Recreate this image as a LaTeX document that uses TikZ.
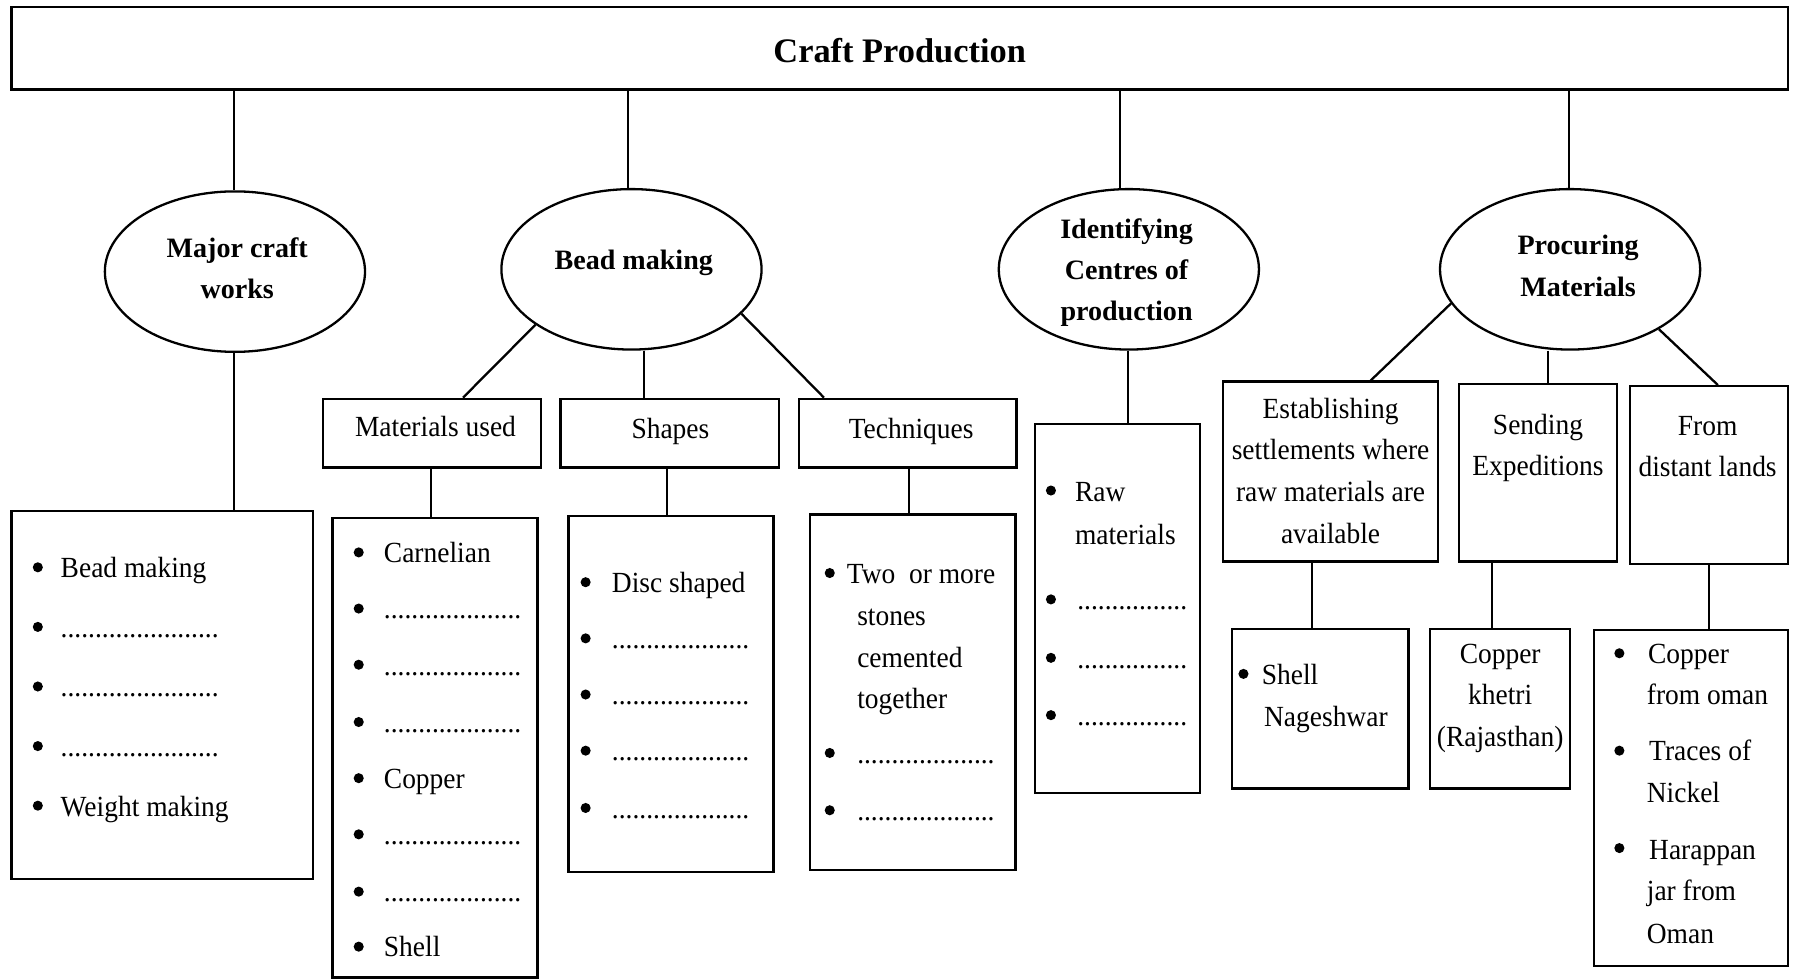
\documentclass[tikz,border=0pt]{standalone}
\usepackage{fontspec}
\setmainfont{Liberation Serif}
\newfontfamily\rgf{Liberation Serif}[FakeStretch=0.94]
\usetikzlibrary{shapes.geometric}
\newcommand\bl[2]{\fill (#1,#2) circle (4.4);}
\newcommand\dA{.......................}
\newcommand\dB{....................}
\newcommand\dE{................}
\begin{document}
\begin{tikzpicture}[x=1pt,y=-1pt,line width=2pt,
  box/.style={draw,rectangle,inner sep=0pt,line width=2pt},
  ell/.style={draw,ellipse,minimum width=227pt,minimum height=140pt,inner sep=0pt},
  etxt/.style={inner sep=0pt,align=center,font=\fontsize{24.5}{36}\selectfont\bfseries},
  txt/.style={anchor=base west,inner sep=0pt,font=\fontsize{25.5}{36}\rgf},
  ctr/.style={anchor=base,inner sep=0pt,font=\fontsize{25.5}{36}\rgf}]
\useasboundingbox (0,0) rectangle (1568,855);
% title
\node[box,minimum width=1550pt,minimum height=72pt] (top) at (785,42) {};
\node[inner sep=0pt,font=\fontsize{30}{36}\selectfont\bfseries] (title) at (785,44) {Craft Production};
% ellipses
\node[ell] (e1) at (205,237) {};
\node[ell] (e2) at (551,235) {};
\node[ell] (e3) at (985,235) {};
\node[ell] (e4) at (1370,235) {};
\node[etxt] (e1t) at (207,234) {Major craft\\works};
\node[etxt] (e2t) at (553,229) {Bead making};
\node[etxt] (e3t) at (983,238) {Identifying\\Centres of\\production};
\node[etxt] (e4t) at (1377,232) {Procuring\\Materials};
% second level boxes
\node[box,minimum width=190pt,minimum height=60pt] (matused) at (377,378) {};
\node[box,minimum width=191pt,minimum height=60pt] (shapes) at (584.5,378) {};
\node[box,minimum width=190pt,minimum height=60pt] (techs) at (792,378) {};
\node[ctr] (hmat) at (380,381) {Materials used};
\node[ctr] (hsh) at (585,383) {Shapes};
\node[ctr] (hte) at (795,383) {Techniques};
% list boxes
\node[box,minimum width=263pt,minimum height=321pt] (lmc) at (141.5,606.5) {};
\node[box,minimum width=179pt,minimum height=401pt] (lmat) at (379.5,652.5) {};
\node[box,minimum width=179pt,minimum height=311pt] (lsh) at (585.5,605.5) {};
\node[box,minimum width=179pt,minimum height=310pt] (ltec) at (796.5,604) {};
\node[box,minimum width=144pt,minimum height=322pt] (lid) at (975,531) {};
\node[box,minimum width=188pt,minimum height=157pt] (est) at (1161,411.5) {};
\node[box,minimum width=138pt,minimum height=155pt] (send) at (1342,412.5) {};
\node[box,minimum width=138pt,minimum height=155pt] (dist) at (1491,414.5) {};
\node[box,minimum width=154pt,minimum height=139pt] (shell) at (1152,618.5) {};
\node[box,minimum width=122pt,minimum height=139pt] (khet) at (1309,618.5) {};
\node[box,minimum width=169pt,minimum height=293pt] (oman) at (1475.5,696.5) {};
% connectors from title
\coordinate (t1) at ([xshift=-1pt]e1.north);
\coordinate (t2) at ([xshift=-3pt]e2.north);
\coordinate (t3) at ([xshift=-8pt]e3.north);
\coordinate (t4) at ([xshift=-1pt]e4.north);
\foreach \t in {t1,t2,t3,t4} \draw (\t |- top.south) -- (\t);
% connectors below ellipses
\coordinate (b1) at ([xshift=-1pt]e1.south);
\draw (b1) -- (b1 |- lmc.north);
\draw (e2.210) -- ([xshift=27pt]matused.north);
\coordinate (b2) at ([xshift=11pt]e2.south);
\draw (b2) -- (b2 |- shapes.north);
\draw (e2.-22) -- ([xshift=-73pt]techs.north);
\coordinate (b3) at ([xshift=-1pt]e3.south);
\draw (b3) -- (b3 |- lid.north);
\draw (e4.196) -- ([xshift=35pt]est.north);
\coordinate (b4) at ([xshift=-19pt]e4.south);
\draw (b4) -- (b4 |- send.north);
\draw (e4.-34) -- ([xshift=8pt]dist.north);
% connectors to lists
\coordinate (m1) at ([xshift=-1pt]matused.south);
\draw (m1) -- (m1 |- lmat.north);
\coordinate (m2) at ([xshift=-2.5pt]shapes.south);
\draw (m2) -- (m2 |- lsh.north);
\coordinate (m3) at ([xshift=1pt]techs.south);
\draw (m3) -- (m3 |- ltec.north);
\coordinate (m4) at ([xshift=-16pt]est.south);
\draw (m4) -- (m4 |- shell.north);
\coordinate (m5) at ([xshift=-40pt]send.south);
\draw (m5) -- (m5 |- khet.north);
\coordinate (m6) at (dist.south);
\draw (m6) -- (m6 |- oman.north);
% Box A
\bl{33}{495} \node[txt] (a1) at (52,504) {Bead making};
\bl{33}{547} \node[txt] (a2) at (52,556) {\dA};
\bl{33}{599} \node[txt] (a3) at (52,608) {\dA};
\bl{33}{651} \node[txt] (a4) at (52,660) {\dA};
\bl{33}{703} \node[txt] (a5) at (52,712) {Weight making};
% Box B
\bl{313}{482} \node[txt] (mb1) at (334,491) {Carnelian};
\bl{313}{531} \node[txt] (mb2) at (334,540) {\dB};
\bl{313}{580} \node[txt] (mb3) at (334,589) {\dB};
\bl{313}{630} \node[txt] (mb4) at (334,639) {\dB};
\bl{313}{679} \node[txt] (mb5) at (334,688) {Copper};
\bl{313}{728} \node[txt] (mb6) at (334,737) {\dB};
\bl{313}{778} \node[txt] (mb7) at (334,787) {\dB};
\bl{313}{826} \node[txt] (mb8) at (334,835) {Shell};
% Box C
\bl{511}{508} \node[txt] (c1) at (533,517) {Disc shaped};
\bl{511}{557} \node[txt] (c2) at (533,566) {\dB};
\bl{511}{606} \node[txt] (c3) at (533,615) {\dB};
\bl{511}{655} \node[txt] (c4) at (533,664) {\dB};
\bl{511}{705} \node[txt] (c5) at (533,714) {\dB};
% Box D
\bl{724}{500} \node[txt] (d1) at (738,509) {Two\ \ or more};
\node[txt] (d2) at (747,546) {stones};
\node[txt] (d3) at (747,582) {cemented};
\node[txt] (d4) at (747,618) {together};
\bl{724}{657} \node[txt] (d5) at (747,666) {\dB};
\bl{724}{707} \node[txt] (d6) at (747,716) {\dB};
% Box E
\bl{917}{428} \node[txt] (f1) at (937,438) {Raw};
\node[txt] (f2) at (937,475) {materials};
\bl{917}{523} \node[txt] (f3) at (939,532) {\dE};
\bl{917}{574} \node[txt] (f4) at (939,583) {\dE};
\bl{917}{624} \node[txt] (f5) at (939,633) {\dE};
% Establishing
\node[ctr] (g1) at (1161,365) {Establishing};
\node[ctr] (g2) at (1161,401) {settlements where};
\node[ctr] (g3) at (1161,438) {raw materials are};
\node[ctr] (g4) at (1161,474) {available};
% Sending
\node[ctr] (h1) at (1342,379) {Sending};
\node[ctr] (h2) at (1342,415) {Expeditions};
% From distant lands
\node[ctr] (i1) at (1490,380) {From};
\node[ctr] (i2) at (1490,416) {distant lands};
% Shell
\bl{1085}{588} \node[txt] (j1) at (1100,597) {Shell};
\node[txt] (j2) at (1102,634) {Nageshwar};
% Copper khetri
\node[ctr] (k1) at (1309,579) {Copper};
\node[ctr] (k2) at (1309,615) {khetri};
\node[ctr] (k3) at (1309,651) {(Rajasthan)};
% Oman
\bl{1413}{570} \node[txt] (o1) at (1437,579) {Copper};
\node[txt] (o2) at (1436,615) {from oman};
\bl{1413}{655} \node[txt] (o3) at (1438,664) {Traces of};
\node[txt] (o4) at (1436,700) {Nickel};
\bl{1413}{740} \node[txt] (o5) at (1438,750) {Harappan};
\node[txt] (o6) at (1436,786) {jar from};
\node[txt] (o7) at (1436,823) {Oman};
\end{tikzpicture}
\end{document}
